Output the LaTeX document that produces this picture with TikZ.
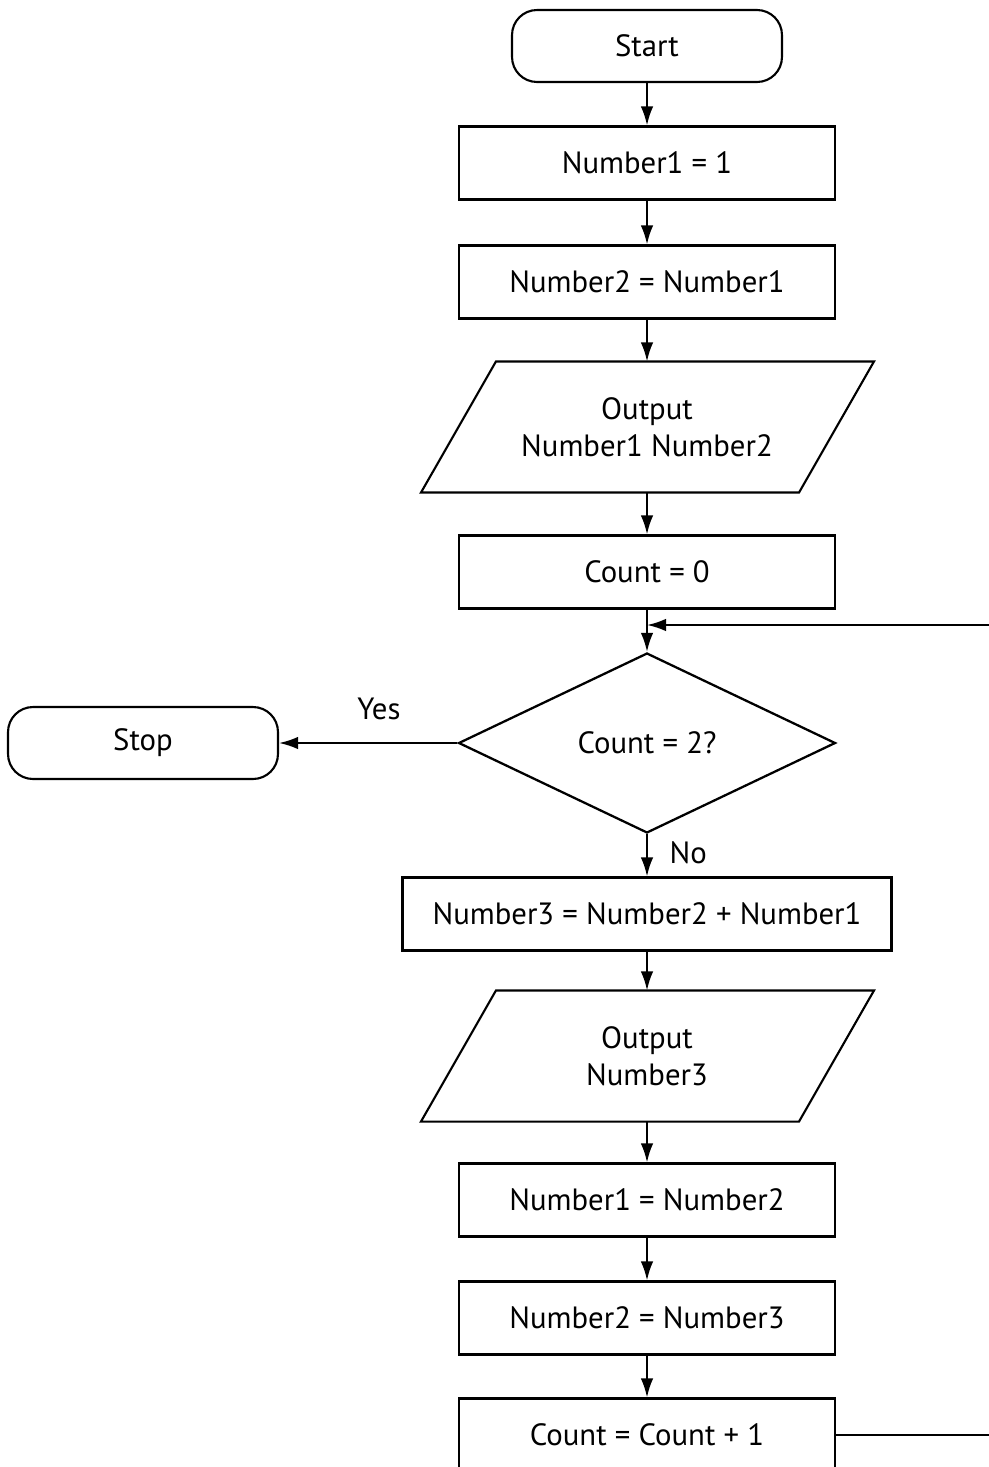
\documentclass[tikz,border=0pt]{standalone}
\usepackage{fontspec}
\setmainfont{PT Sans}
\usetikzlibrary{shapes.geometric,arrows.meta}

\tikzset{
  box/.style={draw, line width=1.2pt, minimum width=7.52cm, minimum height=1.46cm, inner sep=0pt},
  term/.style={draw, line width=1.2pt, rounded corners=0.5cm, minimum width=5.4cm, minimum height=1.44cm},
  io/.style={line width=1.2pt, minimum width=7.52cm, minimum height=2.58cm, align=center, inner sep=0pt},
  decide/.style={draw, line width=1.3pt, diamond, aspect=2.09, minimum width=7.54cm, minimum height=3.6cm, inner sep=0pt},
  flow/.style={line width=1.2pt, -{Latex[length=0.38cm,width=0.25cm]}},
  link/.style={line width=1.2pt}
}

\begin{document}
\begin{tikzpicture}[x=0.02cm,y=-0.02cm,font=\fontsize{17.5}{21}\selectfont]
\useasboundingbox (0,0) rectangle (989,1467);

\node[term] (start) at (647,46) {Start};
\node[box] (n1) at (647,163) {Number1 = 1};
\node[box] (n2) at (647,282) {Number2 = Number1};
\node[io] (out1) at (647,427) {Output\\Number1 Number2};
\node[box] (c0) at (647,572) {Count = 0};
\coordinate (join) at (647,625);
\node[decide] (test) at (647,743) {Count = 2?};
\node[term] (stop) at (143,743) {Stop};
\node[box, minimum width=9.78cm] (n3) at (647,914) {Number3 = Number2 + Number1};
\node[io] (out2) at (647,1056) {Output\\Number3};
\node[box] (n1b) at (647,1200) {Number1 = Number2};
\node[box] (n2b) at (647,1318) {Number2 = Number3};
\node[box] (inc) at (647,1435) {Count = Count + 1};
\coordinate (rb) at (995,1435);
\coordinate (rt) at (995,625);

% slanted outlines of the two output nodes
\foreach \p in {out1,out2}
  \draw[link] ([xshift=0.76cm]\p.north west) -- ([xshift=0.76cm]\p.north east)
    -- ([xshift=-0.74cm]\p.south east) -- ([xshift=-0.74cm]\p.south west) -- cycle;

\draw[flow] (start) -- (n1);
\draw[flow] (n1) -- (n2);
\draw[flow] (n2) -- (out1);
\draw[flow] (out1) -- (c0);
\draw[flow] (c0) -- (test);
\draw[flow] (test) -- node[above=9pt, pos=0.44] {Yes} (stop);
\draw[flow] (test) -- node[right=9pt, pos=0.45] {No} (n3);
\draw[flow] (n3) -- (out2);
\draw[flow] (out2) -- (n1b);
\draw[flow] (n1b) -- (n2b);
\draw[flow] (n2b) -- (inc);
\draw[link] (inc) -- (rb) -- (rt);
\draw[flow] (rt) -- (join);

\end{tikzpicture}
\end{document}
